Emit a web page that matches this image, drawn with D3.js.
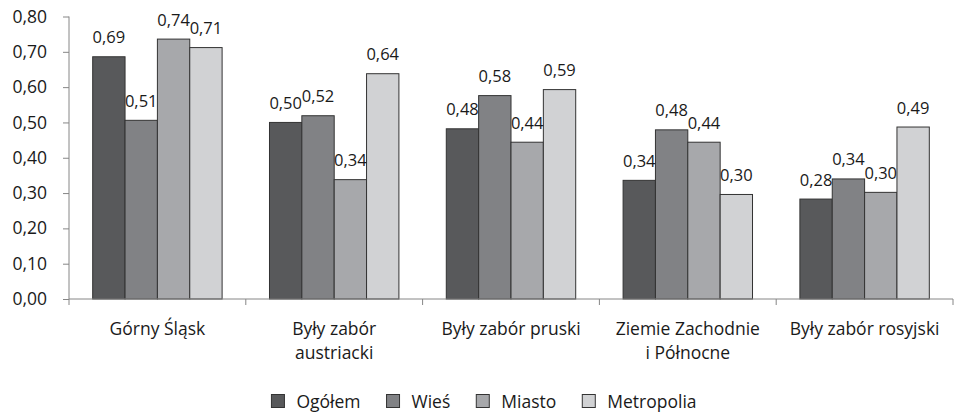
<!DOCTYPE html>
<html>
<head>
<meta charset="utf-8">
<script src="https://cdn.jsdelivr.net/npm/d3@7"></script>
<style>
  body { margin: 0; background: #fff; }
  svg text { font-family: "Open Sans", sans-serif; fill: #1a1a1a; }
</style>
</head>
<body>
<svg id="chart" width="955" height="415"></svg>
<script>
// regions along the x axis (second line where the label wraps)
const categories = ['Górny Śląsk', 'Były zabór austriacki', 'Były zabór pruski', 'Ziemie Zachodnie i Północne', 'Były zabór rosyjski'];
const categoryLines = [['Górny Śląsk'], ['Były zabór', 'austriacki'], ['Były zabór pruski'], ['Ziemie Zachodnie', 'i Północne'], ['Były zabór rosyjski']];
const seriesNames = ['Ogółem', 'Wieś', 'Miasto', 'Metropolia'];
const seriesColors = ['#58595b', '#818285', '#a7a8ab', '#d1d2d4'];

// one array per series, same order as categories
const ogolem     = [0.686, 0.500, 0.482, 0.336, 0.283];
const wies       = [0.506, 0.519, 0.576, 0.479, 0.340];
const miasto     = [0.736, 0.338, 0.444, 0.444, 0.302];
const metropolia = [0.712, 0.638, 0.593, 0.296, 0.487];
const seriesValues = [ogolem, wies, miasto, metropolia];

const yTicks = [0, 0.1, 0.2, 0.3, 0.4, 0.5, 0.6, 0.7, 0.8];

const svg = d3.select('#chart');
const margin = { left: 69, right: 2, top: 16.5, bottom: 116 };
const width = 955 - margin.left - margin.right;
const height = 415 - margin.top - margin.bottom;

const fmt = v => d3.format('.2f')(v).replace('.', ',');

const x0 = d3.scaleBand().domain(categories).range([0, width]).paddingInner(0.268).paddingOuter(0.134);
const xOuter = d3.scaleBand().domain(categories).range([0, width]).padding(0);
const x1 = d3.scaleBand().domain(seriesNames).range([0, x0.bandwidth()]);
const y = d3.scaleLinear().domain([0, 0.8]).range([height, 0]);

const g = svg.append('g').attr('transform', `translate(${margin.left},${margin.top})`);

// y axis
const yAxis = g.append('g')
  .call(d3.axisLeft(y).tickValues(yTicks).tickFormat(fmt).tickSize(6).tickPadding(16));
yAxis.selectAll('text').style('font-size', '17.5px');
yAxis.selectAll('line, path').attr('stroke', '#868686');
yAxis.select('.domain').attr('d', `M0,0V${height}`);

// bars
const groups = g.selectAll('g.cat')
  .data(categories)
  .enter()
  .append('g')
  .attr('class', 'cat')
  .attr('transform', d => `translate(${x0(d)},0)`);

groups.selectAll('rect')
  .data((d, i) => seriesNames.map((s, j) => ({ s: s, j: j, v: seriesValues[j][i] })))
  .enter()
  .append('rect')
  .attr('x', d => x1(d.s))
  .attr('y', d => y(d.v))
  .attr('width', x1.bandwidth())
  .attr('height', d => height - y(d.v))
  .attr('fill', d => seriesColors[d.j])
  .attr('stroke', '#333')
  .attr('stroke-width', 1);

groups.selectAll('text.val')
  .data((d, i) => seriesNames.map((s, j) => ({ s: s, j: j, v: seriesValues[j][i] })))
  .enter()
  .append('text')
  .attr('class', 'val')
  .attr('x', d => x1(d.s) + x1.bandwidth() / 2)
  .attr('y', d => y(d.v) - 13.5)
  .attr('text-anchor', 'middle')
  .style('font-size', '16.5px')
  .text(d => fmt(d.v));

// x axis with ticks between categories
const xAxis = g.append('g').attr('transform', `translate(0,${height})`);
xAxis.append('line').attr('x1', 0).attr('x2', width).attr('stroke', '#868686');
xAxis.selectAll('line.tick')
  .data(categories.concat([null]))
  .enter()
  .append('line')
  .attr('class', 'tick')
  .attr('x1', d => d === null ? width : xOuter(d))
  .attr('x2', d => d === null ? width : xOuter(d))
  .attr('y1', 0)
  .attr('y2', 6)
  .attr('stroke', '#868686');

categories.forEach((c, i) => {
  const t = xAxis.append('text')
    .attr('x', xOuter(c) + xOuter.bandwidth() / 2)
    .attr('y', 36)
    .attr('text-anchor', 'middle')
    .style('font-size', '17.5px');
  categoryLines[i].forEach((line, k) => {
    t.append('tspan').attr('x', xOuter(c) + xOuter.bandwidth() / 2).attr('dy', k === 0 ? 0 : 24).text(line);
  });
});

// legend, laid out from measured text widths and centred
const legend = svg.append('g');
let lx = 0;
seriesNames.forEach((s, i) => {
  const item = legend.append('g').attr('transform', `translate(${lx},0)`);
  item.append('rect').attr('x', 0).attr('y', -6.5).attr('width', 13).attr('height', 13)
    .attr('fill', seriesColors[i]).attr('stroke', '#333');
  const t = item.append('text').attr('x', 25).attr('y', 6.5).style('font-size', '17.5px').text(s);
  lx += 25 + t.node().getComputedTextLength() + 26;
});
lx -= 26;
legend.attr('transform', `translate(${484 - lx / 2},401)`);
</script>
</body>
</html>
